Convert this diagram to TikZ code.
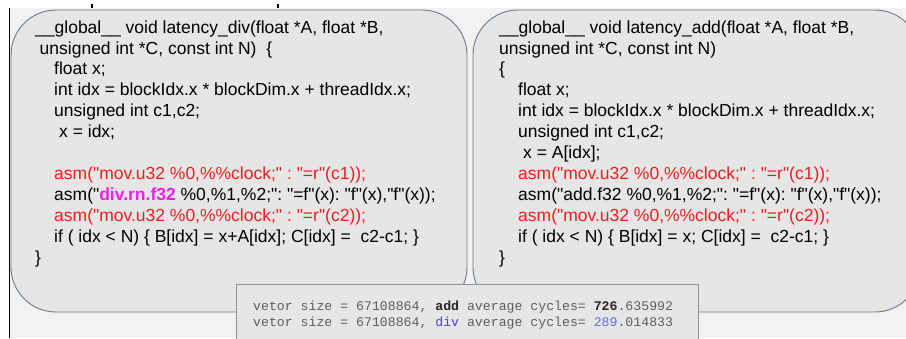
\documentclass[tikz,border=0pt]{standalone}
\usepackage{fontspec}
\usepackage{xcolor}
\usepackage{tikz}
\usetikzlibrary{positioning}
\newfontfamily\codefont{Liberation Sans}
\newfontfamily\termfont{Liberation Mono}
\definecolor{pagegray}{HTML}{F2F2F2}
\definecolor{boxfill}{HTML}{E6E6E6}
\definecolor{boxline}{HTML}{6B7886}
\definecolor{asmred}{HTML}{F01E1E}
\definecolor{opmag}{HTML}{F01EF0}
\definecolor{termgray}{HTML}{5E5E5E}
\definecolor{termblue}{HTML}{4646E0}
\newcommand{\codeind}{\hspace*{19pt}}
\frenchspacing
\tikzset{
	codebox/.style={fill=boxfill, draw=boxline, line width=0.9pt, rounded corners=45pt},
	codetext/.style={anchor=north west, inner sep=0pt, align=left, font=\codefont\fontsize{17.5}{20.9}\selectfont},
	termtext/.style={anchor=north west, inner sep=0pt, align=left, text=termgray, font=\termfont\fontsize{13.2}{16}\selectfont}
}

\begin{document}
\begin{tikzpicture}[x=1pt, y=-1pt]
		\clip (0,0) rectangle (906,338);
		\fill[white] (0,0) rectangle (906,338);
		\fill[pagegray] (10,8) rectangle (906,338);
		\draw[black, line width=1.5pt] (9.5,8) -- (9.5,338);
		\draw[black, line width=2pt] (92,4) -- (92,8);
		\draw[black, line width=2pt] (278,4) -- (278,8);
		\draw[codebox] (11,10) rectangle (467,312);
		\draw[codebox] (473,10) rectangle (920,312);
		\node[codetext] (divcode) at (35,20.3) {%
			\_\_global\_\_ void latency\_div(float *A, float *B,\\
			\hspace*{4.5pt}unsigned int *C, const int N)\ \ \{\\
			\codeind float x;\\
			\codeind int idx = blockIdx.x * blockDim.x + threadIdx.x;\\
			\codeind unsigned int c1,c2;\\
			\codeind\hspace*{5pt}x = idx;\\
			\mbox{}\\
			\codeind\textcolor{asmred}{asm("mov.u32 \%0,\%\%clock;" : "=r"(c1));}\\
			\codeind asm("\textcolor{opmag}{\bfseries div.rn.f32} \%0,\%1,\%2;": "=f"(x): "f"(x),"f"(x));\\
			\codeind\textcolor{asmred}{asm("mov.u32 \%0,\%\%clock;" : "=r"(c2));}\\
			\codeind if ( idx < N) \{ B[idx] = x+A[idx]; C[idx] =\ \ c2-c1; \}\\
			\}};
		\node[codetext] (addcode) at (499,20.3) {%
			\_\_global\_\_ void latency\_add(float *A, float *B,\\
			unsigned int *C, const int N)\\
			\{\\
			\codeind float x;\\
			\codeind int idx = blockIdx.x * blockDim.x + threadIdx.x;\\
			\codeind unsigned int c1,c2;\\
			\codeind\hspace*{5pt}x = A[idx];\\
			\codeind\textcolor{asmred}{asm("mov.u32 \%0,\%\%clock;" : "=r"(c1));}\\
			\codeind asm("add.f32 \%0,\%1,\%2;": "=f"(x): "f"(x),"f"(x));\\
			\codeind\textcolor{asmred}{asm("mov.u32 \%0,\%\%clock;" : "=r"(c2));}\\
			\codeind if ( idx < N) \{ B[idx] = x; C[idx] =\ \ c2-c1; \}\\
			\}};
		\filldraw[boxfill, draw=boxline!80, line width=0.9pt] (236,284) rectangle (698,345);
		\node[termtext] (cycles) at (253,300.4) {%
			vetor size = 67108864, \textcolor{black!85}{\bfseries add} average cycles= \textcolor{black!85}{\bfseries 726}.635992\\
			vetor size = 67108864, \textcolor{termblue}{div} average cycles= \textcolor{termblue!80}{289}.014833};
		\end{tikzpicture}
\end{document}
